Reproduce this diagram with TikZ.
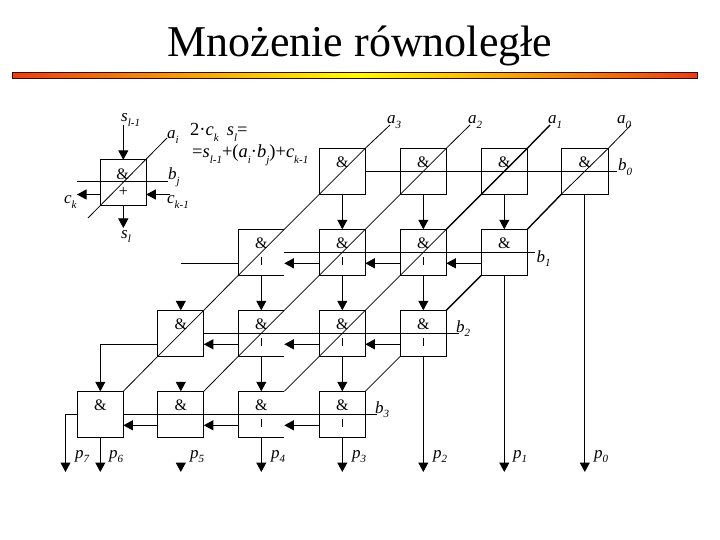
\documentclass[tikz,border=0pt]{standalone}
\usepackage{fontspec}
\setmainfont{Liberation Serif}
\usetikzlibrary{arrows.meta}
\definecolor{barend}{RGB}{232,62,20}
\definecolor{barmid}{RGB}{255,255,0}
\definecolor{baredge}{RGB}{60,10,0}
\newcommand\sublab[2]{\textit{#1}\raisebox{-.28em}{\fontsize{11}{11}\selectfont\textit{#2}}}
\tikzset{
  cell/.style={rectangle,minimum width=46pt,minimum height=46pt,inner sep=0pt,outer sep=0pt},
  boxed/.style={draw,line width=1pt},
  conn/.style={line width=1pt},
  arr/.style={line width=1pt,-{Triangle[length=9.5pt,width=10pt]}},
  thickdiag/.style={line width=1.4pt},
  thindiag/.style={line width=.8pt},
  amp/.style={font=\fontsize{16}{16}\selectfont,inner sep=0pt},
  lab/.style={font=\fontsize{17}{17}\selectfont,inner sep=0pt,anchor=base west},
  formula/.style={font=\fontsize{18.5}{18.5}\selectfont,inner sep=0pt,anchor=base west},
}
\begin{document}
\begin{tikzpicture}[x=1pt,y=-1pt]
\useasboundingbox (0,0) rectangle (720,540);
% title and bar
\node[font=\fontsize{44}{44}\selectfont,inner sep=0pt,anchor=base] (title) at (360,57) {Mnożenie równoległe};
\shade[left color=barend,right color=barend,middle color=barmid] (12.8,72.5) rectangle (697,78.5);
\draw[baredge,line width=1pt] (12.8,72.5) rectangle (697,78.5);

% cells
\foreach \n/\x/\y in {d0/342.3/171.3,e0/423.3/171.3,f0/504.3/171.3,
  c1/261.3/252.3,d1/342.3/252.3,e1/423.3/252.3,f1/504.3/252.3,
  b2/180.8/333.3,c2/261.3/333.3,d2/342.3/333.3,e2/423.3/333.3,
  a3/100.3/414.3,b3/180.8/414.3,c3/261.3/414.3,d3/342.3/414.3}
  \node[cell] (\n) at (\x,\y) {};
\node[cell,minimum width=47pt] (g0) at (584.8,171.3) {};
\node[cell] (smp) at (123.3,182.8) {};

% free ends
\coordinate (ta3) at (390,125); \coordinate (ta2) at (470,125);
\coordinate (ta1) at (550,125); \coordinate (ta0) at (631,125);
\coordinate (eb0) at (617,171.3); \coordinate (eb1) at (535,252.3);
\coordinate (eb2) at (459,333.3); \coordinate (eb3) at (377,414.3);
\coordinate (cin) at (181,263.3);
\coordinate (bend) at (100.3,344.3);
\coordinate (a3l) at (65.5,414.3);
\coordinate (pa3) at (65.5,472);
\foreach \n/\x in {p6/100.3,p5/180.8,p4/261.3,p3/342.3,p2/423.3,p1/504.3,p0/584.8}
  \coordinate (\n) at (\x,472);
\coordinate (hb2) at (180.8,300.5);
\coordinate (hb3) at (180.8,381.5);
\coordinate (hp5) at (180.8,462.5);

% cell outlines
\foreach \n in {d0,e0,f0,g0,d1,e1,f1,b2,d2,e2,a3,b3,d3,smp}
  \draw[boxed] (\n.north west) rectangle (\n.south east);
\foreach \n in {c1,c2,c3}
  \draw[conn] (\n.north east) -- (\n.north west) -- (\n.south west) -- (\n.south east);

% ampersands and bars
\foreach \n in {d0,e0,f0,g0,c1,d1,e1,f1,b2,c2,d2,e2,a3,b3,c3,d3}
  \node[amp] (amp\n) at ([yshift=9.5pt]\n.center) {\&};
\foreach \n in {c1,d1,e1,c2,d2,e2,c3,d3}
  \draw[conn] ([yshift=-5pt]\n.center) -- ([yshift=-13pt]\n.center);

% diagonals
\draw[thindiag] (ta3) -- (d0.north east) -- (d0.south west) -- (c1.north east) -- (c1.south west) -- (b2.north east) -- (b2.south west) -- (a3.north east);
\draw[thindiag] (ta2) -- (e0.north east) -- (e0.south west) -- (d1.north east) -- (d1.south west) -- (c2.north east) -- (c2.south west) -- (b3.north east);
\draw[thickdiag] (ta1) -- (f0.north east) -- (f0.south west) -- (e1.north east);
\draw[thindiag] (e1.north east) -- (e1.south west) -- (d2.north east) -- (d2.south west) -- (c3.north east);
\draw[thindiag] (ta0) -- (g0.north east) -- (g0.south west);
\draw[thickdiag] (g0.south west) -- (f1.north east);
\draw[thickdiag] (f1.south west) -- (e2.north east);
\draw[thindiag] (e2.south west) -- (d3.north east);

% b lines
\draw[conn] (d0.east) -- (eb0);
\draw[conn] (c1.east) -- (eb1);
\draw[conn] (b2.east) -- (eb2);
\draw[conn] (a3.east) -- (eb3);

% vertical signals
\foreach \s/\t in {d0/d1,e0/e1,f0/f1,c1/c2,d1/d2,e1/e2,c2/c3,d2/d3}
  \draw[arr] (\s.south) -- (\t.north);
\draw[arr] (f1.south) -- (p1);
\draw[arr] (g0.south) -- (p0);
\draw[arr] (e2.south) -- (p2);
\draw[arr] (a3.south) -- (p6);
\draw[arr] (c3.south) -- (p4);
\draw[arr] (d3.south) -- (p3);
\draw[arr] (hb2) -- (b2.north);
\draw[arr] (hb3) -- (b3.north);
\draw[arr] (hp5) -- (p5);

% carries
\foreach \s/\t in {f1/e1,e1/d1,d1/c1,e2/d2,d2/c2,c2/b2,d3/c3,c3/b3,b3/a3}
  \draw[arr] ([yshift=-11pt]\s.west) -- ([yshift=-11pt]\t.east);
\draw[conn] ([yshift=-11pt]c1.west) -- (cin);
\draw[arr] ([yshift=-11pt]b2.west) -- (bend) -- (a3.north);
\draw[arr] (a3.west) -- (a3l) -- (pa3);

% sample cell
\coordinate (sin) at (123.3,125);
\coordinate (sout) at (123.3,228);
\coordinate (sbl) at (77,182);
\coordinate (sbr) at (168,182);
\coordinate (sal) at (88,218);
\coordinate (sar) at (167,138);
\coordinate (scl) at (77,194.5);
\coordinate (scr) at (170,194.5);
\draw[arr] (sin) -- (smp.north);
\draw[arr] (smp.south) -- (sout);
\draw[conn] (sbl) -- (sbr);
\draw[thindiag] (sal) -- (sar);
\draw[arr] (scr) -- (scr -| smp.east);
\draw[arr] (scl -| smp.west) -- (scl);
\node[amp] (ampsmp) at (122.7,174) {\&};
\node[amp] (plus) at (123.3,192) {+};

% labels
\node[lab] (la3) at (387,124) {\sublab{a}{3}};
\node[lab] (la2) at (468,124) {\sublab{a}{2}};
\node[lab] (la1) at (548,124) {\sublab{a}{1}};
\node[lab] (la0) at (617,124) {\sublab{a}{0}};
\node[lab] (lb0) at (618,171) {\sublab{b}{0}};
\node[lab] (lb1) at (536.5,262) {\sublab{b}{1}};
\node[lab] (lb2) at (456,332) {\sublab{b}{2}};
\node[lab] (lb3) at (375,413) {\sublab{b}{3}};
\node[lab] (lp7) at (75,458) {\sublab{p}{7}};
\node[lab] (lp6) at (109,458) {\sublab{p}{6}};
\node[lab] (lp5) at (190,458) {\sublab{p}{5}};
\node[lab] (lp4) at (271,458) {\sublab{p}{4}};
\node[lab] (lp3) at (352,458) {\sublab{p}{3}};
\node[lab] (lp2) at (433,458) {\sublab{p}{2}};
\node[lab] (lp1) at (513,458) {\sublab{p}{1}};
\node[lab] (lp0) at (594,458) {\sublab{p}{0}};
\node[lab] (lsi) at (121,122) {\sublab{s}{l-1}};
\node[lab] (lai) at (167,139) {\sublab{a}{i}};
\node[lab] (lbj) at (168,180) {\sublab{b}{j}};
\node[lab] (lck1) at (167,204) {\sublab{c}{k-1}};
\node[lab] (lck) at (64,204) {\sublab{c}{k}};
\node[lab] (lso) at (121,238) {\sublab{s}{l}};
\node[formula] (f1l) at (190,136) {2·\sublab{c}{k}\hspace{8pt}\sublab{s}{l}=};
\node[formula] (f2l) at (192,158) {=\sublab{s}{l-1}+(\sublab{a}{i}·\sublab{b}{j})+\sublab{c}{k-1}};
\end{tikzpicture}
\end{document}
